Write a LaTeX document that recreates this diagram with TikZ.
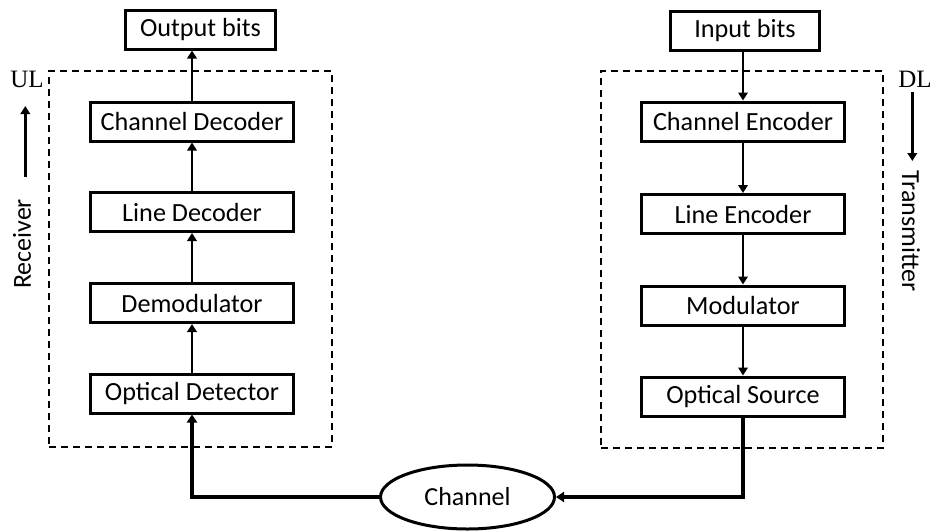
\documentclass[tikz,border=0pt]{standalone}
\usepackage{fontspec}
\setmainfont{Carlito}
\newfontfamily\serifUL{Liberation Serif}
\usetikzlibrary{arrows.meta,shapes.geometric}
\begin{document}
\begin{tikzpicture}[x=1pt,y=-1pt,
  blk/.style={draw, line width=3pt, inner sep=0pt, minimum height=39pt, minimum width=203pt, font=\fontsize{26.2}{31}\selectfont},
  dbox/.style={draw, line width=2pt, dash pattern=on 7pt off 5pt, inner sep=0pt},
  conn/.style={line width=2.5pt, -{Triangle[length=8pt,width=9.5pt]}},
  bconn/.style={line width=3.3pt, -{Triangle[length=8pt,width=10pt]}},
  lbl/.style={font=\fontsize{26}{31}\selectfont, inner sep=0pt},
  ulbl/.style={font=\serifUL\fontsize{25}{29}\selectfont, inner sep=0pt}
]
\useasboundingbox (0,0) rectangle (932,531);
% dashed group boxes
\node[dbox, minimum width=283pt, minimum height=376pt] (rx) at (190.5,259) {};
\node[dbox, minimum width=282pt, minimum height=377pt] (tx) at (742,259.5) {};
% receiver chain
\node[blk, minimum width=150pt] (ob) at (200.5,29.5) {Output bits};
\node[blk] (cd) at (192,121.5) {Channel Decoder};
\node[blk] (ld) at (192,212) {Line Decoder};
\node[blk] (dm) at (192,303) {Demodulator};
\node[blk] (od) at (192,393.5) {Optical Detector};
% transmitter chain
\node[blk, minimum width=149pt] (ib) at (745,31) {Input bits};
\node[blk] (ce) at (743,121.5) {Channel Encoder};
\node[blk] (le) at (743,214) {Line Encoder};
\node[blk] (mo) at (743,305.5) {Modulator};
\node[blk] (os) at (743,396.5) {Optical Source};
% channel
\node[draw, ellipse, line width=3pt, minimum width=174pt, minimum height=64pt, inner sep=0pt, font=\fontsize{26}{31}\selectfont] (ch) at (467.5,497) {Channel};
% connectors
\draw[conn] (cd) -- (cd |- ob.south);
\draw[conn] (ld) -- (cd);
\draw[conn] (dm) -- (ld);
\draw[conn] (od) -- (dm);
\draw[conn] (ib.south -| ce) -- (ce);
\draw[conn] (ce) -- (le);
\draw[conn] (le) -- (mo);
\draw[conn] (mo) -- (os);
\draw[bconn] (ch.west) -| (od.south);
\draw[bconn] (os.south) |- (ch.east);
% side labels
\node[ulbl] (ul) at (27,79.5) {UL};
\node[ulbl] (dl) at (915,79) {DL};
\coordinate (ua1) at (25.3,177);
\coordinate (ua2) at (25.3,106);
\draw[conn] (ua1) -- (ua2);
\coordinate (da1) at (912.3,92);
\coordinate (da2) at (912.3,161);
\draw[conn] (da1) -- (da2);
\node[lbl, rotate=90] (rcv) at (22,244) {Receiver};
\node[lbl, rotate=-90] (trm) at (911,231) {Transmitter};
\end{tikzpicture}
\end{document}
